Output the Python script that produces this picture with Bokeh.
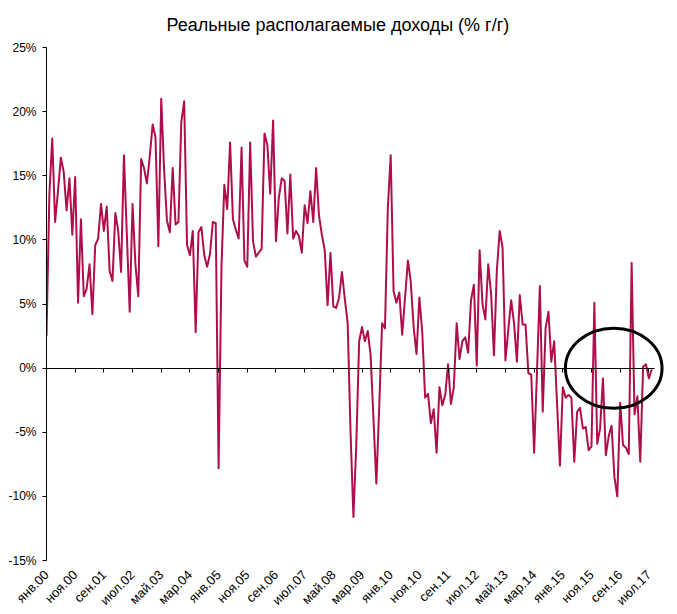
from math import pi
from bokeh.plotting import figure
from bokeh.models import Range1d, FixedTicker, LinearAxis, Title, ColumnDataSource
from bokeh.embed import file_html
from bokeh.resources import INLINE

# Real disposable incomes, % y/y, monthly from Jan 2000 to Aug 2017
income_growth_pct = [
    2.5, 13.5, 17.9, 11.4, 13.8, 16.4, 15.3, 12.3, 14.8, 10.4,
    14.9, 5.1, 11.6, 5.6, 6.2, 8.1, 4.2, 9.6, 10.1, 12.8,
    10.7, 12.6, 7.6, 6.8, 12.1, 10.7, 7.5, 16.6, 10.5, 4.4,
    12.8, 8.1, 5.6, 16.3, 15.6, 14.4, 16.5, 19.0, 18.0, 9.5,
    21.0, 15.5, 11.5, 10.6, 15.6, 11.2, 11.4, 19.2, 20.8, 9.6,
    8.8, 10.7, 2.8, 10.6, 11.0, 8.8, 7.9, 8.9, 11.4, 11.3,
    -7.8, 7.9, 14.3, 12.4, 17.6, 11.6, 10.8, 10.1, 17.2, 8.4,
    7.9, 17.6, 9.9, 8.7, 9.0, 9.3, 18.3, 17.4, 13.6, 19.3,
    9.9, 13.3, 14.8, 14.6, 10.5, 15.1, 10.1, 10.7, 10.3, 9.0,
    12.7, 11.3, 13.8, 11.4, 15.6, 11.9, 10.4, 9.2, 4.9, 9.0,
    4.8, 4.7, 5.5, 7.5, 5.4, 3.5, -5.0, -11.6, -6.0, 2.1,
    3.2, 2.1, 2.9, 1.0, -4.0, -9.0, -3.0, 3.5, 3.1, 12.5,
    16.6, 6.0, 5.1, 5.9, 2.6, 5.5, 8.4, 6.7, 3.2, 1.1,
    5.5, 2.8, -2.3, -2.0, -4.3, -3.2, -6.6, -1.5, -2.9, -2.1,
    0.3, -2.8, -1.5, 3.5, 0.7, 2.1, 2.4, 1.2, 5.3, 6.5,
    0.2, 9.2, 5.0, 3.8, 8.1, 5.8, 1.0, 7.6, 10.7, 9.4,
    0.6, 3.0, 5.3, 3.5, 0.5, 5.7, 3.4, 3.4, -0.4, -0.5,
    -6.6, -0.3, 6.4, -3.4, 3.1, 4.4, 0.5, 2.1, -2.8, -7.6,
    -1.5, -2.3, -2.1, -2.3, -7.3, -3.4, -3.1, -4.7, -4.6, -6.4,
    -6.1, 5.1, -5.9, -4.7, -0.8, -6.8, -5.3, -4.5, -8.5, -10.0,
    -2.7, -6.0, -6.2, -6.7, 8.2, -3.6, -2.2, -7.3, 0.1, 0.3,
    -0.8, -0.1,
]
month_index = list(range(len(income_growth_pct)))

x_tick_positions = list(range(0, 211, 10))
x_tick_labels = ["янв.00", "ноя.00", "сен.01", "июл.02", "май.03", "мар.04",
                 "янв.05", "ноя.05", "сен.06", "июл.07", "май.08", "мар.09",
                 "янв.10", "ноя.10", "сен.11", "июл.12", "май.13", "мар.14",
                 "янв.15", "ноя.15", "сен.16", "июл.17"]
y_tick_values = [-15, -10, -5, 0, 5, 10, 15, 20, 25]
y_tick_labels = ["-15%", "-10%", "-5%", "0%", "5%", "10%", "15%", "20%", "25%"]

# highlighted region (months / percent)
highlight_month_from = 180.9
highlight_month_to = 214.6
highlight_low = -3.14
highlight_high = 3.12

FONT = "Liberation Sans"
LINE_COLOR = "#AE0F4C"

p = figure(
    frame_width=621, frame_height=513,
    x_range=Range1d(0, 216.5), y_range=Range1d(-15, 25),
    output_backend="svg", toolbar_location=None,
    min_border_left=46, min_border_top=46, min_border_right=1, min_border_bottom=10,
)
p.background_fill_color = "white"
p.border_fill_color = "white"
p.outline_line_color = None
p.xgrid.visible = False
p.ygrid.visible = False

p.title = Title(text="Реальные располагаемые доходы (% г/г)", align="left", offset=120,
                text_font=FONT, text_font_size="18px", text_font_style="normal",
                text_line_height=1.0, text_color="black", standoff=25)

# y axis
ya = p.yaxis[0]
ya.ticker = FixedTicker(ticks=y_tick_values)
ya.major_label_overrides = {v: l for v, l in zip(y_tick_values, y_tick_labels)}
ya.major_tick_in = 0
ya.major_tick_out = 4
ya.minor_tick_line_color = None
ya.axis_line_color = "black"
ya.major_tick_line_color = "black"
ya.major_label_standoff = 6
ya.major_label_text_font = FONT
ya.major_label_text_font_size = "12px"
ya.major_label_text_color = "black"

# x labels axis at bottom
xa = p.xaxis[0]
xa.ticker = FixedTicker(ticks=x_tick_positions)
xa.major_label_overrides = {v: l for v, l in zip(x_tick_positions, x_tick_labels)}
xa.axis_line_color = None
xa.major_tick_line_color = None
xa.minor_tick_line_color = None
xa.major_tick_in = 0
xa.major_tick_out = 0
xa.major_label_orientation = pi / 4
xa.major_label_standoff = 12
xa.major_label_text_font = FONT
xa.major_label_text_font_size = "13px"
xa.major_label_text_color = "black"

# zero-crossing category axis (line + ticks only)
zero_axis = LinearAxis(
    fixed_location=0, ticker=FixedTicker(ticks=x_tick_positions),
    bounds=(0, len(income_growth_pct)),
    axis_line_color="black", axis_line_width=1,
    major_tick_line_color="black", major_tick_in=0, major_tick_out=4,
    minor_tick_line_color=None,
    major_label_overrides={v: "" for v in x_tick_positions},
    major_label_text_color=None, major_label_text_font_size="1px",
    major_label_standoff=0,
)
p.add_layout(zero_axis, "below")

src = ColumnDataSource(dict(x=month_index, y=income_growth_pct))
p.line("x", "y", source=src, line_color=LINE_COLOR, line_width=2, line_join="round")

p.ellipse(x=[(highlight_month_from + highlight_month_to) / 2],
          y=[(highlight_low + highlight_high) / 2],
          width=[highlight_month_to - highlight_month_from],
          height=[highlight_high - highlight_low],
          fill_color=None, line_color="black", line_width=3)

open("out.html", "w").write(file_html(p, INLINE))
